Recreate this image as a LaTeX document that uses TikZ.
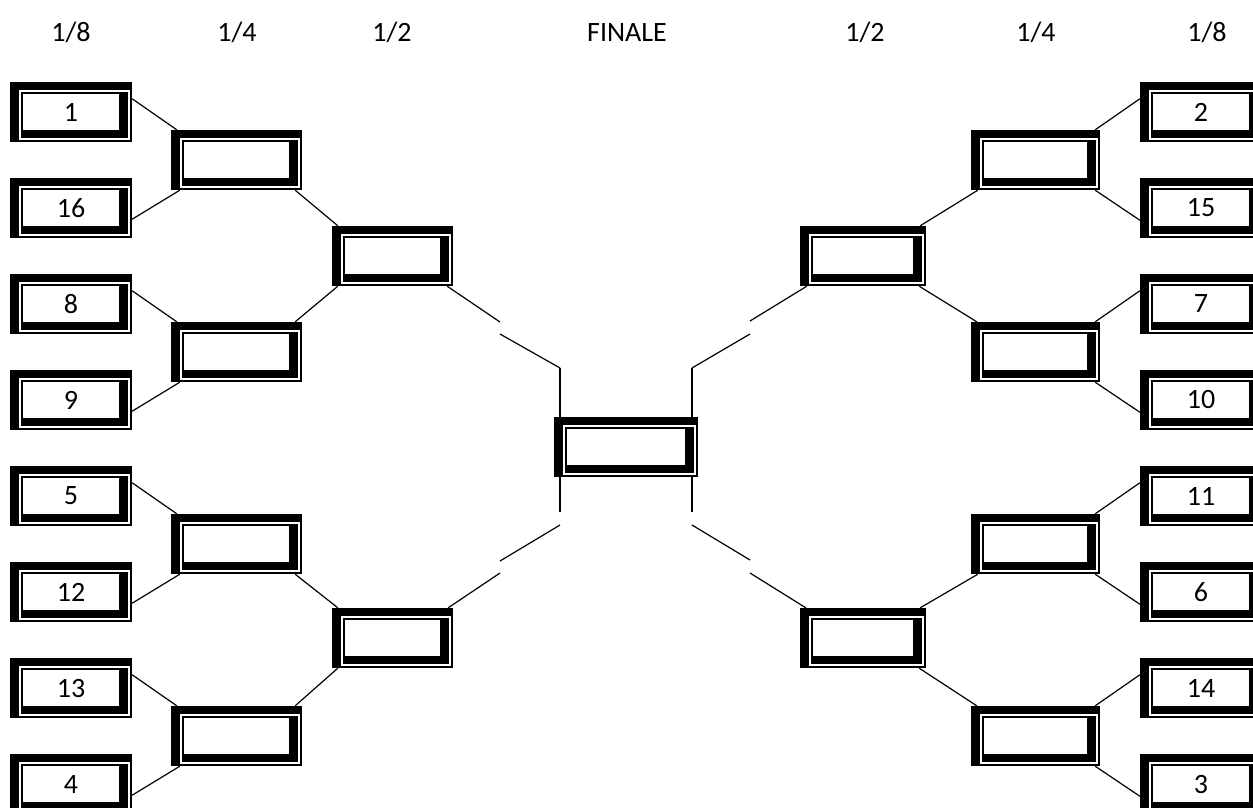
\documentclass[tikz,border=0pt]{standalone}
\usepackage{fontspec}
\setmainfont{Carlito}
\usetikzlibrary{positioning,backgrounds,calc}

\tikzset{
  slot/.style={fill=black, inner sep=0pt, minimum width=#1, minimum height=60,
    font=\fontsize{28}{30}\selectfont,
    path picture={
      \fill[white] ([shift={(9pt,-8pt)}]path picture bounding box.north west)
        rectangle ([shift={(-2pt,2pt)}]path picture bounding box.south east);
      \fill[black] ([shift={(11pt,-10pt)}]path picture bounding box.north west)
        rectangle ([shift={(-4pt,4pt)}]path picture bounding box.south east);
      \fill[white] ([shift={(12.5pt,-11.5pt)}]path picture bounding box.north west)
        rectangle ([shift={(-13pt,12pt)}]path picture bounding box.south east);
    }},
  slot/.default=122,
  head/.style={anchor=base, font=\fontsize{28}{30}\selectfont},
  link/.style={line width=1.2pt},
  stem/.style={line width=2pt}
}

\begin{document}
\begin{tikzpicture}[x=1pt, y=-1pt]
  \useasboundingbox (0,0) rectangle (1253,807);
  \clip (0,0) rectangle (1253,807);

  % round titles
  \node[head] (h1) at (71,41) {1/8};
  \node[head] (h2) at (237,41) {1/4};
  \node[head] (h3) at (392,41) {1/2};
  \node[head] (h4) at (627,41) {FINALE};
  \node[head] (h5) at (865,41) {1/2};
  \node[head] (h6) at (1036,41) {1/4};
  \node[head] (h7) at (1207,41) {1/8};

  % eighth-final seeds
  \foreach \n/\y [count=\i] in {1/112,16/208,8/304,9/400,5/496,12/592,13/688,4/784}
    \node[slot] (l\i) at (71,\y) {\n};
  \foreach \n/\y [count=\i] in {2/112,15/208,7/304,10/400,11/496,6/592,14/688,3/784}
    \node[slot] (r\i) at (1201,\y) {\n};

  % quarter, semi, final
  \foreach \y [count=\i] in {160,352,544,736} {
    \node[slot=131] (lq\i) at (236.5,\y) {};
    \node[slot=129] (rq\i) at (1035.5,\y) {};
  }
  \node[slot=121] (ls1) at (392.5,256) {};
  \node[slot=121] (ls2) at (392.5,638) {};
  \node[slot=126] (rs1) at (863,256) {};
  \node[slot=126] (rs2) at (863,638) {};
  \node[slot=144] (fin) at (626,447) {};

  % broken joints towards the final
  \coordinate (la1) at (500,322);
  \coordinate (la2) at (500,334);
  \coordinate (lv1) at (560,368);
  \coordinate (lv2) at (560,512);
  \coordinate (lb1) at (560,525);
  \coordinate (lb2) at (500,561);
  \coordinate (lb3) at (500,573);
  \coordinate (ra1) at (750,321);
  \coordinate (ra2) at (750,334);
  \coordinate (rv1) at (692,368);
  \coordinate (rv2) at (692,512);
  \coordinate (rb1) at (692,525);
  \coordinate (rb2) at (750,560);
  \coordinate (rb3) at (750,573);

  \begin{scope}[on background layer]
    \foreach \i/\a/\b in {1/1/2,2/3/4,3/5/6,4/7/8} {
      \draw[link] ([yshift=-17]l\a.north east) -- ([xshift=6]lq\i.north west);
      \draw[link] ([yshift=19]l\b.south east) -- ([xshift=9]lq\i.south west);
      \draw[link] ([yshift=-17]r\a.north west) -- ([xshift=-5]rq\i.north east);
      \draw[link] ([yshift=18]r\b.south west) -- ([xshift=-5]rq\i.south east);
    }
    \draw[link] ([xshift=-7]lq1.south east) -- ([xshift=6]ls1.north west);
    \draw[link] ([xshift=-7]lq2.north east) -- ([xshift=6]ls1.south west);
    \draw[link] ([xshift=-7]lq3.south east) -- ([xshift=6]ls2.north west);
    \draw[link] ([xshift=-7]lq4.north east) -- ([xshift=6]ls2.south west);
    \draw[link] ([xshift=-6]rs1.north east) -- ([xshift=7]rq1.south west);
    \draw[link] ([xshift=-7]rs1.south east) -- ([xshift=6]rq2.north west);
    \draw[link] ([xshift=-6]rs2.north east) -- ([xshift=7]rq3.south west);
    \draw[link] ([xshift=-7]rs2.south east) -- ([xshift=6]rq4.north west);

    \draw[link] ([xshift=-6]ls1.south east) -- (la1);
    \draw[link] (la2) -- (lv1);
    \draw[stem] (lv1) -- (lv2);
    \draw[link] (lb1) -- (lb2);
    \draw[link] (lb3) -- ([xshift=-5]ls2.north east);
    \draw[link] ([xshift=7]rs1.south west) -- (ra1);
    \draw[link] (ra2) -- (rv1);
    \draw[stem] (rv1) -- (rv2);
    \draw[link] (rb1) -- (rb2);
    \draw[link] (rb3) -- ([xshift=6]rs2.north west);
  \end{scope}
\end{tikzpicture}
\end{document}
